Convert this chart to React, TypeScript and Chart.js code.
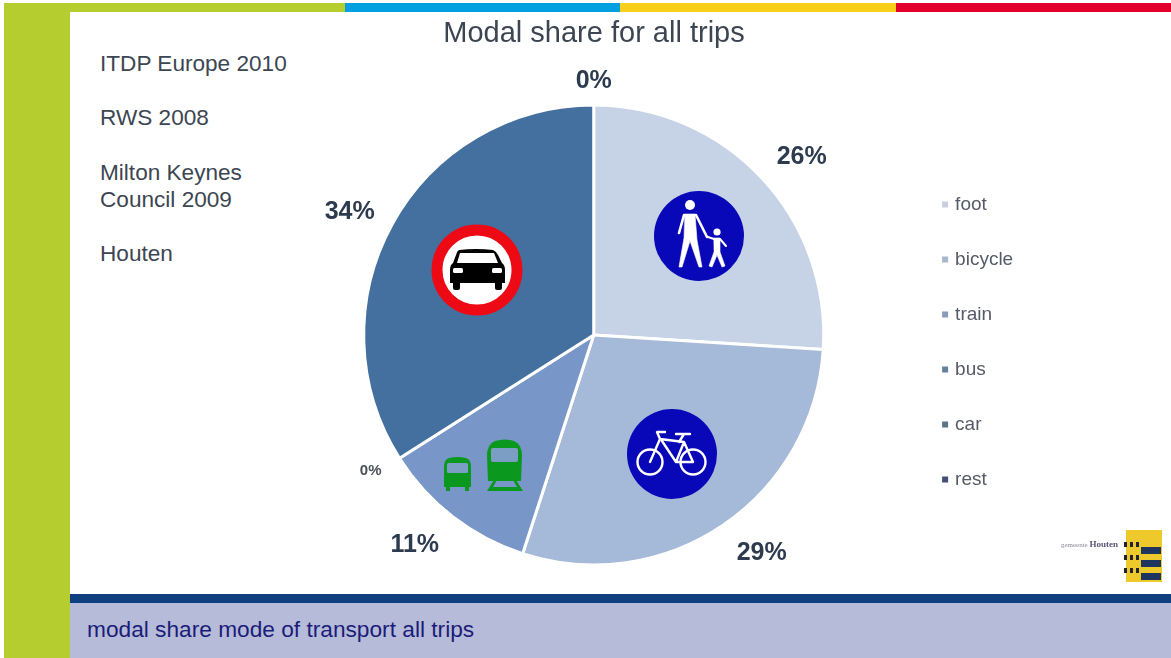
import React, { useEffect, useRef } from "react";
import { Chart, registerables } from "chart.js";

Chart.register(...registerables);

const categories = ["foot", "bicycle", "train", "bus", "car", "rest"];
const shares = [26, 29, 11, 0, 34, 0];
const sliceColors = ["#c6d2e6", "#a5b9d9", "#7896c8", "#5f83b8", "#44709f", "#34507f"];
const legendColors = ["#c9cfdc", "#aab6cc", "#8a9bb8", "#66819f", "#5d7488", "#454e74"];
const labelOffsets: [number, number][] = [
  [208, -178], [168, 218], [-179, 210], [-223, 136], [-244, -123], [0, -254],
];
const labelFontSizes = [25, 25, 25, 15, 25, 25];
const titleText = "Modal share for all trips";
const footerText = "modal share mode of transport all trips";
const sourceLines = [
  { text: "ITDP Europe 2010", top: 51 },
  { text: "RWS 2008", top: 105 },
  { text: "Milton Keynes", top: 160 },
  { text: "Council 2009", top: 187 },
  { text: "Houten", top: 241 },
];
const topStrips = [
  { color: "#b5cd2f", left: 4, width: 341 },
  { color: "#009fe0", left: 345, width: 275 },
  { color: "#f8d01c", left: 620, width: 276 },
  { color: "#e2002b", left: 896, width: 275 },
];

const FONT = '"Liberation Sans", Arial, sans-serif';

const boxStyle = (s: React.CSSProperties): React.CSSProperties => ({ position: "absolute", ...s });

const slideLayoutPlugin = {
  id: "slideLayout",
  afterLayout(chart: any) {
    const t = chart.titleBlock;
    if (t) {
      const w = t.right - t.left;
      t.left = 594 - w / 2;
      t.right = 594 + w / 2;
      t.top = 17;
      t.bottom = t.top + t.height;
    }
    const l = chart.legend;
    if (l) {
      const h = l.bottom - l.top;
      const w = l.right - l.left;
      l.left = 908.6;
      l.right = 908.6 + w;
      l.top = 342 - h / 2;
      l.bottom = l.top + h;
    }
  },
};

const sliceLabelPlugin = {
  id: "sliceLabels",
  afterDatasetsDraw(chart: any) {
    const { ctx } = chart;
    const total = shares.reduce((a, b) => a + b, 0);
    const arcs = chart.getDatasetMeta(0).data;
    ctx.save();
    ctx.textAlign = "center";
    ctx.textBaseline = "middle";
    shares.forEach((v, i) => {
      const a = arcs[i];
      ctx.font = `bold ${labelFontSizes[i]}px ${FONT}`;
      ctx.fillStyle = i === 3 ? "#4a4f58" : "#2d3b4f";
      ctx.fillText(`${Math.round((v / total) * 100)}%`, a.x + labelOffsets[i][0], a.y + labelOffsets[i][1]);
    });
    ctx.restore();
  },
};

function Signs() {
  return (
    <svg width={1171} height={658} style={{ position: "absolute", left: 0, top: 0, pointerEvents: "none" }}>
      {/* pedestrians sign */}
      <circle cx={699} cy={236} r={45} fill="#0808b8" />
      <g fill="#fff" stroke="#fff" strokeLinejoin="round" strokeLinecap="round">
        <circle cx={690} cy={205} r={5} stroke="none" />
        <path d="M685 214 L695 214 L697 240 L702 267 L699 267 L690 241 L682 267 L679 267 L684 238 Z" strokeWidth={0.6} />
        <path d="M684 215 L679 233 M696 215 L707 237" strokeWidth={2.6} fill="none" />
        <circle cx={717} cy={232} r={3.6} stroke="none" />
        <path d="M714 238 L720 238 L720 252 L725 266 L722 267 L717 255 L712 267 L709 266 L714 252 Z" strokeWidth={0.6} />
        <path d="M714 239 L708 237 M720 239 L726 246" strokeWidth={2} fill="none" />
      </g>
      {/* bicycle sign */}
      <circle cx={672} cy={454} r={45} fill="#0808b8" />
      <g fill="none" stroke="#fff" strokeWidth={2.4} strokeLinejoin="round" strokeLinecap="round">
        <circle cx={650} cy={462} r={12.5} />
        <circle cx={693} cy={462} r={12.5} />
        <path d="M650 462 L660 439 L684 442 L676 462 L662 441 M676 462 L693 462 L684 442 M684 434 L679 442 M676 434 L690 434 M660 439 L657 432 L665 432" />
      </g>
      {/* no cars sign */}
      <circle cx={477} cy={270} r={40} fill="#fff" stroke="#ee0a14" strokeWidth={11} />
      <g fill="#000">
        <path d="M459 250 Q476 248 493 250 Q496 251 498 255 L502 263 Q505 265 505 270 L505 283 L450 283 L450 270 Q450 265 453 263 L456 255 Q457 251 459 250 Z" />
        <rect x={453} y={281} width={7} height={9} rx={2} />
        <rect x={495} y={281} width={7} height={9} rx={2} />
      </g>
      <path d="M460 253 L494 253 L498 263 L457 263 Z" fill="#fff" />
      <rect x={453} y={268} width={10} height={5} rx={1.5} fill="#fff" />
      <rect x={492} y={268} width={10} height={5} rx={1.5} fill="#fff" />
      {/* bus */}
      <g fill="#0a991e">
        <path d="M449 458 Q458 456 466 458 Q471 460 471 466 L471 487 L444 487 L444 466 Q444 460 449 458 Z" />
        <rect x={446} y={486} width={4} height={5} />
        <rect x={465} y={486} width={4} height={5} />
      </g>
      <rect x={447} y={463} width={21} height={10} rx={1.5} fill="#7c9ec4" />
      {/* train */}
      <g fill="#0a991e">
        <path d="M495 441 Q505 438 514 441 Q522 444 522 456 L521 481 L488 481 L487 456 Q487 444 495 441 Z" />
        <path d="M494 480 L487 491 L523 491 L516 480 L513 480 L517 487 L493 487 L497 480 Z" />
      </g>
      <rect x={491} y={448} width={27} height={14} rx={2} fill="#7c9ec4" />
      {/* logo */}
      <text x={1118} y={547} textAnchor="end" fontFamily="Liberation Serif" fontSize={7} fill="#8a8a9a">
        gemeente <tspan fontWeight="bold" fontSize={9} fill="#555577">Houten</tspan>
      </text>
      <rect x={1126} y={530} width={36} height={52} fill="#eec92b" />
      <rect x={1141} y={547} width={20} height={7} fill="#1e3560" />
      <rect x={1141} y={560} width={20} height={7} fill="#1e3560" />
      <rect x={1141} y={573} width={20} height={7} fill="#1e3560" />
      <g fill="#222233">
        <rect x={1124} y={542} width={3} height={5} /><rect x={1130} y={542} width={3} height={5} /><rect x={1136} y={542} width={3} height={5} />
        <rect x={1124} y={555} width={3} height={5} /><rect x={1130} y={555} width={3} height={5} /><rect x={1136} y={555} width={3} height={5} />
        <rect x={1124} y={568} width={3} height={5} /><rect x={1130} y={568} width={3} height={5} /><rect x={1136} y={568} width={3} height={5} />
      </g>
    </svg>
  );
}

export default function App() {
  const ref = useRef<HTMLCanvasElement>(null);
  useEffect(() => {
    document.body.style.margin = "0";
    const chart = new Chart(ref.current!, {
      type: "pie",
      data: {
        labels: categories,
        datasets: [{
          data: shares,
          backgroundColor: sliceColors,
          borderColor: "#ffffff",
          borderWidth: 3,
        }],
      },
      options: {
        responsive: false,
        animation: false,
        layout: { padding: { left: 281, right: 150, top: 68.7, bottom: 91.5 } },
        plugins: {
          tooltip: { enabled: false },
          title: {
            display: true,
            text: titleText,
            color: "#3c4652",
            font: { family: FONT, size: 29, weight: "normal" },
            padding: 0,
            fullSize: false,
          },
          legend: {
            display: true,
            position: "right",
            labels: {
              usePointStyle: true,
              pointStyle: "rect",
              boxWidth: 1,
              boxHeight: 6,
              padding: 36,
              color: "#555a66",
              font: { family: FONT, size: 19 },
              generateLabels: () =>
                categories.map((c, i) => ({
                  text: c,
                  fillStyle: legendColors[i],
                  strokeStyle: legendColors[i],
                  fontColor: "#555a66",
                  pointStyle: "rect",
                  lineWidth: 0,
                  hidden: false,
                  index: i,
                })),
            },
          },
        },
      },
      plugins: [slideLayoutPlugin, sliceLabelPlugin],
    } as any);
    return () => chart.destroy();
  }, []);

  return (
    <div style={{ position: "relative", width: 1171, height: 658, overflow: "hidden", background: "#fff", fontFamily: FONT, filter: "blur(0.5px)" }}>
      {topStrips.map((s) => (
        <div key={s.color} style={boxStyle({ left: s.left, top: 3, width: s.width, height: 9, background: s.color })} />
      ))}
      <div style={boxStyle({ left: 4, top: 3, width: 66, height: 655, background: "#b5cd2f" })} />
      <div style={boxStyle({ left: 70, top: 594, width: 1101, height: 9, background: "#0f3f7e" })} />
      <div style={boxStyle({ left: 70, top: 603, width: 1101, height: 55, background: "#b5bbd9" })} />
      <div style={boxStyle({ left: 87, top: 616, fontSize: 22.7, lineHeight: "26px", color: "#1c1c78", whiteSpace: "nowrap" })}>{footerText}</div>
      {sourceLines.map((l) => (
        <div key={l.text} style={boxStyle({ left: 100, top: l.top, fontSize: 22.6, lineHeight: "26px", color: "#3c4652", whiteSpace: "nowrap" })}>{l.text}</div>
      ))}
      <canvas ref={ref} width={1171} height={658} style={{ position: "absolute", left: 0, top: 0, display: "block" }} />
      <Signs />
    </div>
  );
}
